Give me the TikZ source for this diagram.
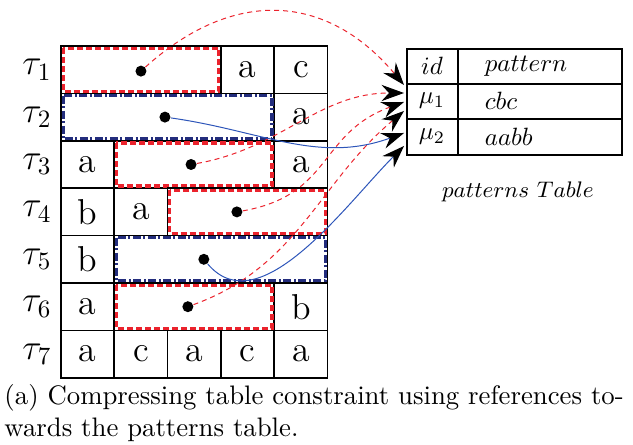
\documentclass[tikz,border=0pt]{standalone}
\usetikzlibrary{arrows.meta}
\begin{document}
\begin{tikzpicture}[x=0.4pt, y=0.4pt,
    cellline/.style={line width=0.7pt, black},
    letter/.style={font=\Large},
    taulabel/.style={font=\Large},
    redbox/.style={refred, line width=1.3pt, dash pattern=on 2.4pt off 1.2pt},
    bluebox/.style={refnavy, line width=1.3pt, dash pattern=on 3.2pt off 1pt on 0.8pt off 1pt},
    refdot/.style={circle, fill=black, inner sep=0pt, minimum size=4.4pt},
    reftip/.style={-{Stealth[black, length=9pt, width=6.5pt, inset=3pt]}},
    redref/.style={reftip, refred, thin, dash pattern=on 2pt off 1.6pt},
    blueref/.style={reftip, refblue, thin}]
    \definecolor{refred}{RGB}{235, 35, 45}   % Red
    \definecolor{refnavy}{RGB}{35, 45, 125}  % Navy
    \definecolor{refblue}{RGB}{45, 85, 185}  % Blue

    \useasboundingbox (0,0) rectangle (633,-445);

    % Table of tuples
    \begin{scope}[shift={(61,-46)}, x=21.32pt, y=-18.96pt]
        % Single cells
        \foreach \c/\r/\t in {3/0/a, 4/0/c, 4/1/a, 0/2/a, 4/2/a, 0/3/b, 1/3/a,
                              0/4/b, 0/5/a, 4/5/b, 0/6/a, 1/6/c, 2/6/a, 3/6/c, 4/6/a}
            \draw[cellline] (\c,\r) rectangle ++(1,1) node[midway, letter] (cell\c\r) {\t};

        % Compressed parts
        \foreach \c/\r/\w/\s in {0/0/3/redbox, 0/1/4/bluebox, 1/2/3/redbox,
                                 2/3/3/redbox, 1/4/4/bluebox, 1/5/3/redbox} {
            \draw[cellline] (\c,\r) rectangle ++(\w,1);
            \draw[\s] (\c+0.04,\r+0.045) rectangle (\c+\w-0.04,\r+0.955);
        }

        % Row labels
        \foreach \r in {1,...,7}
            \node[taulabel] (tau\r) at (-0.45,\r-0.5) {$\tau_{\r}$};

        % References
        \node[refdot] (d1) at (1.5,0.53) {};
        \node[refdot] (d2) at (1.95,1.5) {};
        \node[refdot] (d3) at (2.44,2.5) {};
        \node[refdot] (d4) at (3.3,3.5) {};
        \node[refdot] (d5) at (2.68,4.5) {};
        \node[refdot] (d6) at (2.38,5.5) {};
    \end{scope}

    % Patterns table
    \draw[cellline] (407,-49) rectangle (622,-155);
    \draw[cellline] (407,-84) -- (622,-84);
    \draw[cellline] (407,-119) -- (622,-119);
    \draw[cellline] (458,-49) -- (458,-155);
    \node (hid) at (432,-66) {$id$};
    \node[anchor=west] (hpat) at (476,-66) {$pattern$};
    \node (mu1) at (432,-101) {$\mu_1$};
    \node[anchor=west] (pat1) at (476,-101) {$cbc$};
    \node (mu2) at (432,-137) {$\mu_2$};
    \node[anchor=west] (pat2) at (476,-137) {$aabb$};
    \node[font=\small] (ptitle) at (518,-192) {$patterns\ Table$};

    % Arrow ends
    \coordinate (tip1) at (404,-85);
    \coordinate (tip3) at (404,-93);
    \coordinate (tip4) at (404,-102);
    \coordinate (tip6) at (404,-111);
    \coordinate (tip2) at (404,-133);
    \coordinate (tip5) at (404,-146);

    % Arrows
    \draw[redref] (d1) to[out=42, in=130, looseness=1.18] (tip1);
    \draw[redref] (d3) to[out=10, in=180] (tip3);
    \draw[redref] (d4) to[out=10, in=200, looseness=1.2] (tip4);
    \draw[redref] (d6) to[out=20, in=220] (tip6);
    \draw[blueref] (d2) to[out=-8, in=200] (tip2);
    \draw[blueref] (d5) to[out=-50, in=225, looseness=0.9] (tip5);

    % Caption
    \node[anchor=north west, align=left, inner sep=0pt, font=\fontsize{10.7}{12.6}\selectfont] (caption) at (4,-384)
        {(a) Compressing table constraint using references to-\\wards the patterns table.};
\end{tikzpicture}
\end{document}
